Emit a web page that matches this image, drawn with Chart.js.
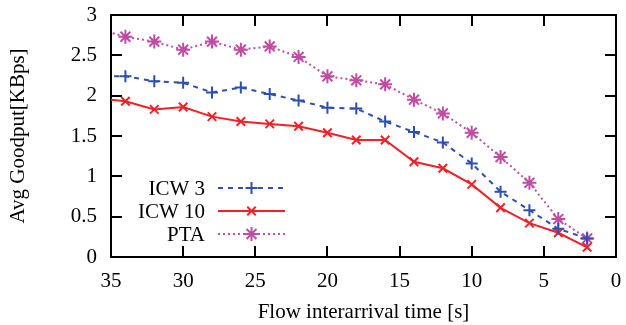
<!DOCTYPE html>
<html>
<head>
<meta charset="utf-8">
<script src="https://cdn.jsdelivr.net/npm/chart.js@4/dist/chart.umd.min.js"></script>
<style>
  html, body { margin: 0; padding: 0; background: #fff; }
  #wrap { width: 626px; height: 325px; }
</style>
</head>
<body>
<div id="wrap"><canvas id="goodput" width="626" height="325"></canvas></div>
<script>
// flow interarrival time [s]; 36 lies just outside the plotted range and is clipped
const interarrival = [2, 4, 6, 8, 10, 12, 14, 16, 18, 20, 22, 24, 26, 28, 30, 32, 34, 36];
const icw3  = [0.23, 0.35, 0.58, 0.81, 1.16, 1.42, 1.55, 1.68, 1.84, 1.85, 1.94, 2.02, 2.10, 2.04, 2.16, 2.18, 2.24, 2.24];
const icw10 = [0.12, 0.30, 0.42, 0.61, 0.90, 1.10, 1.18, 1.45, 1.45, 1.54, 1.62, 1.65, 1.68, 1.74, 1.86, 1.83, 1.93, 1.97];
const pta   = [0.23, 0.47, 0.92, 1.24, 1.54, 1.78, 1.95, 2.14, 2.19, 2.24, 2.48, 2.61, 2.57, 2.67, 2.57, 2.67, 2.73, 2.83];
const xTicks = [35, 30, 25, 20, 15, 10, 5, 0];
const yTicks = [0, 0.5, 1, 1.5, 2, 2.5, 3];

const serif = '"Liberation Serif", "DejaVu Serif", serif';
const toPts = (ys) => ys.map((y, i) => ({ x: interarrival[i], y: y }));

// key inside the plot: label on the left, line sample with marker on the right
const key = {
  id: 'key',
  afterDatasetsDraw(chart) {
    const { ctx } = chart;
    const textRight = 205, lineL = 218, lineR = 285, rowY = [188, 211, 234];
    ctx.save();
    chart.data.datasets.forEach((ds, i) => {
      const y = rowY[i];
      ctx.fillStyle = '#000';
      ctx.font = '21px ' + serif;
      ctx.textAlign = 'right';
      ctx.textBaseline = 'middle';
      ctx.fillText(ds.label, textRight, y + 1);
      ctx.strokeStyle = ds.borderColor;
      ctx.lineWidth = ds.borderWidth;
      ctx.setLineDash(ds.borderDash || []);
      ctx.beginPath();
      ctx.moveTo(lineL, y); ctx.lineTo(lineR, y);
      ctx.stroke();
      ctx.setLineDash([]);
      Chart.helpers.drawPoint(ctx, {
        pointStyle: ds.pointStyle, radius: ds.pointRadius, borderWidth: ds.pointBorderWidth, rotation: 0
      }, (lineL + lineR) / 2, y);
    });
    ctx.restore();
  }
};

// inward tick marks (negative tick length), black frame from the axis borders
const tickGrid = { display: true, drawOnChartArea: false, drawTicks: true, tickLength: -11, color: '#000', lineWidth: 2 };
const frameBorder = { display: true, color: '#000', width: 2 };

new Chart(document.getElementById('goodput'), {
  type: 'line',
  data: {
    datasets: [
      { label: 'ICW 3', data: toPts(icw3), borderColor: '#2f4fae', borderWidth: 2, borderDash: [5, 5],
        pointStyle: 'cross', pointRadius: 6, pointBorderWidth: 2 },
      { label: 'ICW 10', data: toPts(icw10), borderColor: '#ee2229', borderWidth: 2,
        pointStyle: 'crossRot', pointRadius: 6, pointBorderWidth: 2 },
      { label: 'PTA', data: toPts(pta), borderColor: '#bf4ea3', borderWidth: 2, borderDash: [2, 3],
        pointStyle: 'star', pointRadius: 7, pointBorderWidth: 2 }
    ]
  },
  options: {
    responsive: false,
    animation: false,
    layout: { padding: { top: 15, right: 10, left: 0, bottom: 0 } },
    plugins: { legend: { display: false }, tooltip: { enabled: false } },
    scales: {
      x: {
        type: 'linear', position: 'bottom', reverse: true, min: 0, max: 35,
        afterFit(s) { s.height = 68; s.paddingLeft = 0; s.paddingRight = 0; },
        afterBuildTicks(s) { s.ticks = xTicks.map(v => ({ value: v })); },
        grid: tickGrid,
        border: frameBorder,
        ticks: { color: '#000', padding: 23, callback: v => String(v), font: { family: serif, size: 21 } },
        title: { display: true, text: 'Flow interarrival time [s]', color: '#000',
          padding: { top: 0, bottom: 0 }, font: { family: serif, size: 21 } }
      },
      x2: {
        type: 'linear', axis: 'x', position: 'top', reverse: true, min: 0, max: 35,
        afterFit(s) { s.height = 0; s.paddingLeft = 0; s.paddingRight = 0; },
        afterBuildTicks(s) { s.ticks = xTicks.map(v => ({ value: v })); },
        grid: tickGrid,
        border: frameBorder,
        ticks: { display: false }
      },
      y: {
        type: 'linear', position: 'left', min: 0, max: 3,
        afterFit(s) { s.width = 111; s.paddingTop = 0; s.paddingBottom = 0; },
        afterBuildTicks(s) { s.ticks = yTicks.map(v => ({ value: v })); },
        grid: tickGrid,
        border: frameBorder,
        ticks: { color: '#000', padding: 25, callback: v => String(v), font: { family: serif, size: 21 } },
        title: { display: true, text: 'Avg Goodput[KBps]', color: '#000',
          padding: { top: 6, bottom: 6 }, font: { family: serif, size: 21 } }
      },
      y2: {
        type: 'linear', axis: 'y', position: 'right', min: 0, max: 3,
        afterFit(s) { s.width = 0; s.paddingTop = 0; s.paddingBottom = 0; },
        afterBuildTicks(s) { s.ticks = yTicks.map(v => ({ value: v })); },
        grid: tickGrid,
        border: frameBorder,
        ticks: { display: false }
      }
    }
  },
  plugins: [key]
});
</script>
</body>
</html>
